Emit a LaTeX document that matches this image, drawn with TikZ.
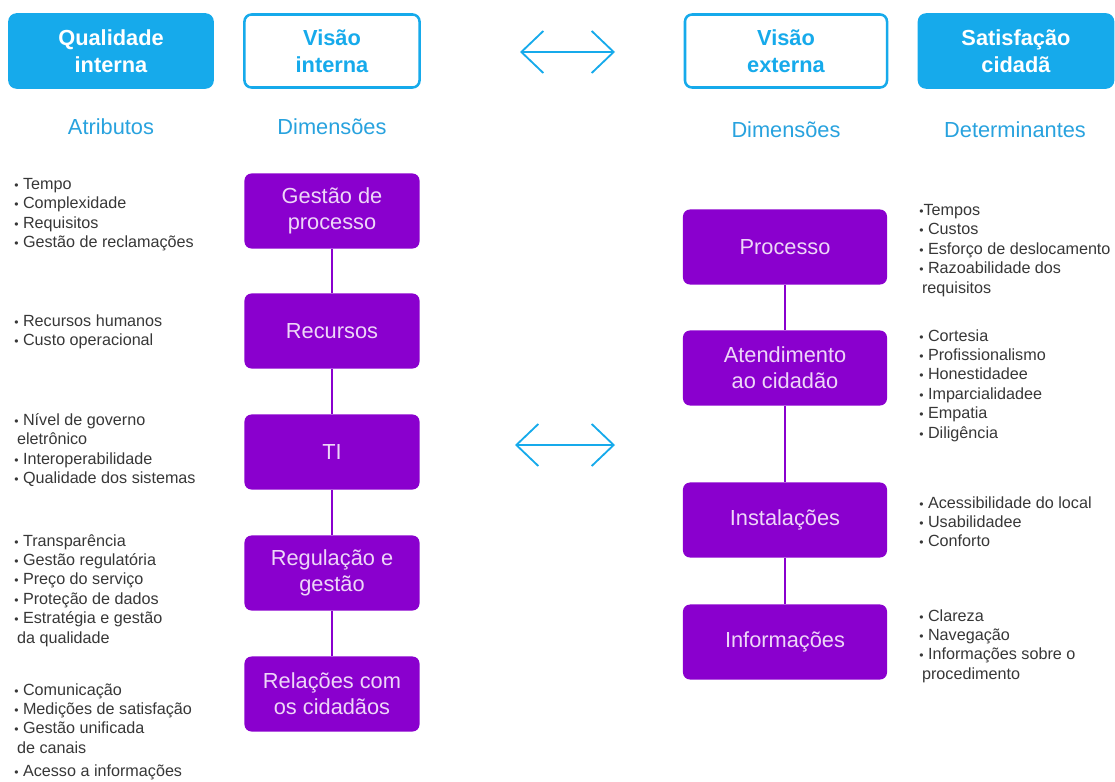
\documentclass[tikz,border=0pt]{standalone}
\usepackage{fontspec}
\setmainfont{Liberation Sans}
\usetikzlibrary{arrows.meta, positioning}

\definecolor{skyblue}{RGB}{22,170,235}
\definecolor{headblue}{RGB}{40,162,222}
\definecolor{dimviolet}{RGB}{138,0,206}
\definecolor{boxtext}{RGB}{238,214,248}
\definecolor{listgray}{RGB}{55,55,55}

\newcommand{\bul}{\scalebox{0.75}{•}}

\begin{document}
\begin{tikzpicture}[
    x=0.025cm, y=-0.025cm,
    head/.style={rectangle, rounded corners=5pt, minimum height=1.825cm, align=center, line width=1.8pt, font=\fontsize{15.5}{19}\selectfont\bfseries},
    headfill/.style={head, fill=skyblue, draw=skyblue, text=white},
    headline/.style={head, fill=white, draw=skyblue, text=skyblue},
    title/.style={text=headblue, font=\fontsize{15.5}{18}\selectfont},
    dim/.style={rectangle, rounded corners=5pt, fill=dimviolet, text=boxtext, minimum height=1.875cm, align=center, font=\fontsize{15.5}{18.6}\selectfont},
    attr/.style={anchor=north west, inner sep=0pt, align=left, text=listgray, font=\fontsize{11.5}{13.8}\selectfont},
    link/.style={dimviolet, line width=1pt},
    biarrow/.style={{Straight Barb[length=0.55cm, width=1.05cm]}-{Straight Barb[length=0.55cm, width=1.05cm]}, skyblue, line width=1.3pt}
]
    \useasboundingbox (0,0) rectangle (1115,781);

    % Header boxes
    \node (qual) [headfill, minimum width=5.075cm] at (111,51) {Qualidade\\interna};
    \node (visint) [headline, minimum width=4.375cm] at (332,51) {Visão\\interna};
    \node (visext) [headline, minimum width=5.05cm] at (786,51) {Visão\\externa};
    \node (satis) [headfill, minimum width=4.85cm] at (1016,51) {Satisfação\\cidadã};

    % Column titles
    \node (atrib) [title] at (111,127) {Atributos};
    \node (dimint) [title] at (332,127) {Dimensões};
    \node (dimext) [title] at (786,130) {Dimensões};
    \node (determ) [title] at (1015,130) {Determinantes};

    % Internal dimensions
    \node (gestao) [dim, minimum width=4.375cm] at (332,211) {Gestão de\\processo};
    \node (recursos) [dim, minimum width=4.375cm] at (332,331) {Recursos};
    \node (ti) [dim, minimum width=4.375cm] at (332,452) {TI};
    \node (regul) [dim, minimum width=4.375cm] at (332,573) {Regulação e\\gestão};
    \node (relac) [dim, minimum width=4.375cm] at (332,694) {Relações com\\os cidadãos};

    % External dimensions
    \node (processo) [dim, minimum width=5.1cm] at (785,247) {Processo};
    \node (atend) [dim, minimum width=5.1cm] at (785,368) {Atendimento\\ao cidadão};
    \node (instal) [dim, minimum width=5.1cm] at (785,520) {Instalações};
    \node (inform) [dim, minimum width=5.1cm] at (785,642) {Informações};

    % Links
    \draw [link] (gestao) -- (recursos);
    \draw [link] (recursos) -- (ti);
    \draw [link] (ti) -- (regul);
    \draw [link] (regul) -- (relac);
    \draw [link] (processo) -- (atend);
    \draw [link] (atend) -- (instal);
    \draw [link] (instal) -- (inform);

    % Two-way arrows
    \coordinate (topL) at (520,52);
    \coordinate (topR) at (615,52);
    \coordinate (midL) at (515,445);
    \coordinate (midR) at (615,445);
    \draw [biarrow] (topL) -- (topR);
    \draw [biarrow] (midL) -- (midR);

    % Attributes
    \node (attgestao) [attr] at (14,178) {\bul\ Tempo\\\bul\ Complexidade\\\bul\ Requisitos\\\bul\ Gestão de reclamações};
    \node (attrecursos) [attr] at (14,314) {\bul\ Recursos humanos\\\bul\ Custo operacional};
    \node (attti) [attr] at (14,413) {\bul\ Nível de governo\\\hspace{2pt}eletrônico\\\bul\ Interoperabilidade\\\bul\ Qualidade dos sistemas};
    \node (attregul) [attr] at (14,534) {\bul\ Transparência\\\bul\ Gestão regulatória\\\bul\ Preço do serviço\\\bul\ Proteção de dados\\\bul\ Estratégia e gestão\\\hspace{2pt}da qualidade};
    \node (attrelac) [attr] at (14,683) {\bul\ Comunicação\\\bul\ Medições de satisfação\\\bul\ Gestão unificada\\\hspace{2pt}de canais\\[3pt]\bul\ Acesso a informações};

    % Determinants
    \node (detprocesso) [attr] at (919,204) {\bul Tempos\\\bul\ Custos\\\bul\ Esforço de deslocamento\\\bul\ Razoabilidade dos\\\hspace{2pt}requisitos};
    \node (detatend) [attr] at (919,329) {\bul\ Cortesia\\\bul\ Profissionalismo\\\bul\ Honestidadee\\\bul\ Imparcialidadee\\\bul\ Empatia\\\bul\ Diligência};
    \node (detinstal) [attr] at (919,496) {\bul\ Acessibilidade do local\\\bul\ Usabilidadee\\\bul\ Conforto};
    \node (detinform) [attr] at (919,609) {\bul\ Clareza\\\bul\ Navegação\\\bul\ Informações sobre o\\\hspace{2pt}procedimento};

\end{tikzpicture}
\end{document}
